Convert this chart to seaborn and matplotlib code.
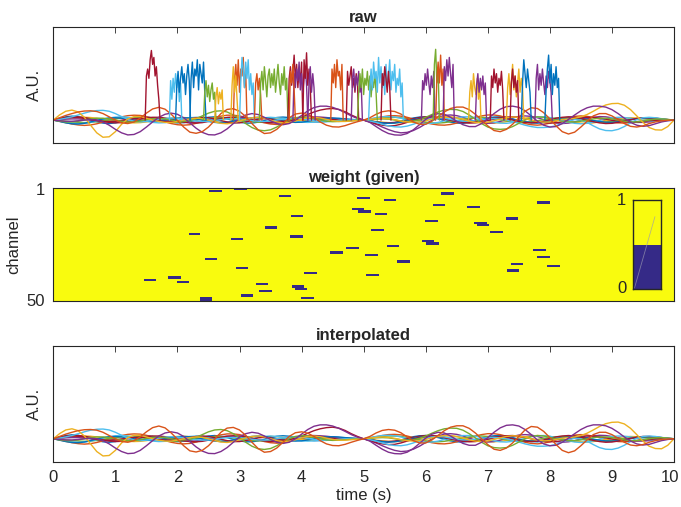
import numpy as np
import pandas as pd
import seaborn as sns
import matplotlib
matplotlib.use("Agg")
import matplotlib.pyplot as plt
import matplotlib.transforms as mtransforms
from matplotlib.colors import ListedColormap

# matlab default colour order
colors = ["#0072BD", "#D95319", "#EDB120", "#7E2F8E", "#77AC30", "#4DBEEE", "#A2142F"]

# smooth channel traces, in 0.01 A.U., one value every 0.1 s from 0 to 10 s
trace_step = 0.1
traces = [
    # small ones first
    [0, 8, 14, 17, 15, 9, 1, -7, -13, -15, -12, -6, 1, 8, 12, 13, 10, 4, -3, -9,
     -12, -11, -7, 0, 7, 12, 14, 11, 5, -2, -9, -13, -13, -9, -2, 5, 11, 13, 11, 6,
     0, -5, -8, -8, -6, -3, 0, 2, 2, 1, 0,
     -4, -9, -13, -14, -11, -5, 2, 9, 13, 14, 11, 5, -2, -9, -13, -14, -10, -4, 3, 9,
     13, 14, 11, 5, -2, -8, -12, -13, -10, -4, 3, 9, 12, 12, 9, 3, -3, -8, -11, -11,
     -8, -3, 2, 6, 8, 8, 6, 3, 1, 0],
    [0, -5, -11, -17, -21, -23, -21, -16, -9, -1, 7, 14, 19, 21, 20, 15, 8, 0, -8, -15,
     -20, -22, -20, -14, -6, 3, 11, 17, 21, 21, 18, 11, 3, -5, -12, -17, -19, -17, -12, -6,
     0, 5, 8, 9, 8, 6, 4, 2, 1, 0, 0,
     4, 9, 14, 18, 19, 17, 12, 5, -3, -11, -17, -21, -22, -19, -13, -5, 4, 12, 18, 22,
     22, 18, 11, 2, -7, -15, -20, -22, -19, -13, -5, 4, 11, 16, 18, 16, 11, 5, -2, -8,
     -12, -13, -11, -7, -3, 0, 2, 2, 1, 0],
    [0, 3, 6, 9, 11, 12, 11, 8, 4, 0, -4, -8, -11, -12, -11, -8, -4, 0, 4, 8,
     10, 11, 9, 6, 2, -2, -6, -9, -10, -9, -6, -2, 2, 6, 9, 10, 9, 6, 3, 0,
     -3, -5, -6, -6, -5, -4, -3, -2, -1, 0, 0,
     -3, -6, -9, -11, -12, -11, -8, -4, 0, 5, 9, 12, 13, 12, 9, 5, 0, -5, -9, -12,
     -13, -11, -7, -2, 3, 8, 12, 14, 13, 10, 5, 0, -5, -10, -13, -14, -12, -8, -3, 2,
     6, 9, 10, 9, 7, 4, 2, 1, 0, 0],
    [0, 2, 4, 5, 5, 3, 0, -3, -5, -6, -5, -2, 2, 6, 9, 10, 9, 6, 2, -3,
     -7, -10, -11, -9, -5, 0, 5, 9, 11, 11, 8, 4, -1, -6, -9, -10, -8, -4, 1, 6,
     10, 13, 14, 13, 11, 8, 5, 3, 1, 0, 0,
     -8, -18, -30, -41, -50, -55, -53, -45, -32, -16, -1, 12, 20, 22, 19, 12, 3, -6, -12, -14,
     -12, -6, 2, 10, 16, 18, 16, 10, 2, -6, -12, -15, -13, -8, -1, 6, 12, 15, 14, 10,
     4, -2, -7, -10, -10, -8, -5, -2, -1, 0],
    [0, -2, -5, -8, -10, -11, -10, -7, -3, 1, 5, 8, 10, 10, 8, 4, 0, -4, -8, -10,
     -10, -8, -4, 0, 4, 7, 9, 9, 7, 4, 0, -4, -7, -9, -9, -7, -3, 1, 5, 8,
     9, 8, 6, 3, 0, -2, -3, -3, -2, -1, 0,
     3, 7, 10, 12, 12, 10, 6, 1, -4, -9, -12, -13, -11, -7, -2, 3, 8, 11, 12, 10,
     6, 1, -4, -8, -10, -10, -7, -3, 2, 6, 9, 10, 8, 5, 0, -5, -8, -10, -9, -6,
     -2, 2, 5, 6, 6, 4, 2, 1, 0, 0],
    [0, -4, -9, -13, -15, -14, -10, -4, 3, 9, 13, 14, 12, 7, 1, -5, -10, -12, -11, -7,
     -1, 5, 10, 12, 11, 7, 1, -5, -10, -12, -10, -6, 0, 6, 10, 12, 10, 6, 0, -5,
     -9, -10, -9, -6, -3, 0, 2, 2, 1, 0, 0,
     5, 10, 14, 15, 13, 8, 1, -6, -12, -15, -14, -10, -3, 4, 10, 14, 14, 11, 5, -2,
     -9, -13, -14, -11, -5, 2, 9, 13, 14, 11, 5, -2, -9, -14, -16, -14, -9, -2, 5, 10,
     12, 11, 8, 3, -1, -4, -5, -4, -2, 0],
    [0, 6, 11, 14, 14, 11, 6, 0, -6, -10, -12, -11, -7, -2, 4, 9, 12, 12, 9, 4,
     -2, -8, -12, -13, -11, -6, 0, 6, 11, 13, 12, 8, 2, -4, -9, -12, -12, -9, -4, 2,
     7, 10, 11, 9, 6, 3, 0, -2, -2, -1, 0,
     -4, -8, -11, -12, -10, -6, 0, 6, 11, 14, 14, 11, 6, 0, -6, -11, -13, -12, -8, -2,
     4, 10, 13, 14, 11, 6, 0, -6, -11, -13, -12, -8, -2, 4, 9, 12, 12, 9, 4, -1,
     -5, -8, -9, -8, -6, -3, -1, 0, 0, 0],
    # larger excursions on top
    [0, -6, -12, -16, -17, -14, -8, -1, 5, 9, 10, 8, 4, 0, -3, -5, -5, -3, 0, 4,
     8, 10, 9, 5, 0, -6, -10, -12, -10, -5, 1, 6, 10, 12, 10, 6, 1, -4, -8, -10,
     -9, -5, 0, 5, 8, 9, 8, 5, 3, 1, 0, -3, -8, -12, -14, -13, -9, -4, 2, 7,
     10, 10, 8, 4, 0, -4, -6, -6, -3, 1, 5, 8, 9, 7, 3, -2, -7, -10, -11, -9,
     -5, 0, 5, 8, 9, 7, 3, -2, -6, -9, -10, -8, -4, 1, 5, 8, 9, 8, 5, 2, 0],
    [0, 5, 10, 12, 11, 7, 2, -3, -6, -7, -5, -1, 3, 6, 7, 5, 1, -3, -6, -6,
     -4, 0, 5, 10, 12, 10, 5, -2, -8, -12, -12, -8, -2, 4, 6, 4, -2, -6, -5, 2,
     12, 24, 35, 43, 48, 50, 46, 36, 22, 10, 0, -8, -16, -22, -25, -24, -18, -10, -2, 5,
     10, 12, 10, 5, -1, -6, -9, -9, -6, -1, 4, 8, 9, 6, 0, -6, -10, -12, -10, -5,
     2, 8, 12, 14, 12, 7, 0, -7, -12, -15, -14, -10, -4, 2, 7, 10, 10, 8, 5, 2, 0],
    [0, 3, 8, 14, 22, 30, 37, 41, 42, 38, 28, 15, 3, -5, -8, -6, -2, 3, 7, 9,
     8, 4, 0, -4, -6, -5, -2, 2, 5, 6, 5, 2, -2, -5, -6, -4, 0, 4, 7, 8,
     6, 2, -3, -6, -7, -5, -2, 0, 1, 1, 0, -4, -10, -18, -25, -29, -30, -26, -18, -8,
     2, 8, 10, 8, 3, -2, -5, -5, -2, 2, 5, 6, 4, 0, -6, -14, -22, -28, -32, -32,
     -30, -24, -14, -4, 2, 0, -10, -25, -38, -45, -46, -40, -28, -12, 2, 10, 12, 10, 6, 2, 0],
    [0, -5, -8, -8, -5, 0, 5, 8, 8, 5, 0, -5, -8, -8, -4, 2, 6, 7, 5, 0,
     -4, -5, -2, 6, 18, 30, 38, 40, 35, 22, 5, -15, -32, -43, -46, -42, -30, -14, 0, 10,
     14, 12, 6, 0, -5, -7, -6, -4, -2, -1, 0, 2, 4, 5, 4, 0, -4, -6, -4, 2,
     12, 24, 35, 43, 46, 45, 37, 22, 4, -15, -30, -38, -40, -38, -28, -14, 0, 10, 14, 12,
     6, 0, -5, -8, -8, -5, 0, 5, 8, 8, 5, 0, -5, -8, -8, -5, 0, 4, 5, 3, 0],
    [0, 22, 38, 43, 35, 12, -22, -55, -74, -72, -50, -18, 5, 15, 15, 8, 0, -6, -10, -10,
     -6, 0, 5, 8, 6, 0, -8, -14, -16, -12, -4, 4, 10, 12, 8, 0, -8, -12, -10, -4,
     4, 10, 12, 9, 3, -3, -6, -6, -4, -2, 0, 3, 6, 8, 6, 2, -4, -8, -10, -8,
     -3, 4, 10, 14, 14, 10, 3, -5, -10, -12, -9, -3, 4, 10, 13, 12, 7, 0, -6, -9,
     -8, -3, 3, 5, 8, 14, 24, 38, 53, 65, 71, 72, 64, 45, 18, -10, -32, -42, -43, -28, 0],
    [0, -3, -5, -5, -3, 0, 2, 0, -8, -22, -40, -55, -64, -62, -50, -30, -8, 12, 25, 30,
     25, 10, -12, -35, -53, -63, -64, -55, -38, -15, 8, 22, 28, 24, 12, -3, -15, -20, -15, 0,
     20, 40, 54, 60, 60, 55, 45, 32, 18, 7, 0, -10, -28, -45, -58, -64, -65, -58, -42, -20,
     3, 20, 28, 25, 12, -5, -20, -28, -28, -15, 5, 28, 47, 58, 60, 55, 40, 18, -5, -22,
     -30, -28, -15, 3, 22, 40, 53, 60, 60, 56, 45, 28, 8, -10, -22, -27, -24, -16, -8, -3, 0],
    [0, 10, 20, 28, 35, 39, 40, 37, 28, 14, 0, -12, -15, -8, 8, 30, 48, 55, 47, 25,
     -2, -30, -52, -57, -50, -30, -2, 28, 46, 49, 38, 15, -15, -42, -58, -55, -40, -15, 10, 26,
     30, 24, 10, -8, -22, -29, -30, -24, -15, -7, 0, 10, 25, 36, 40, 37, 26, 8, -8, -18,
     -18, -5, 15, 35, 50, 56, 56, 45, 25, 0, -25, -45, -50, -40, -18, 10, 38, 53, 50, 32,
     5, -25, -50, -60, -52, -30, -5, 18, 28, 28, 18, 2, -15, -27, -30, -25, -15, -8, -3, -1, 0],
]
trace_color = [0, 1, 2, 3, 4, 5, 6, 0, 6, 5, 4, 2, 3, 1]

# artifact bursts in the raw recording: colour, start time (s), values (A.U.) every 0.02 s
burst_step = 0.02
burst_color = [6, 5, 0, 0, 4, 2, 1, 2, 5, 1, 4, 6, 3, 1, 6, 3, 1, 6, 3, 4,
               5, 6, 3, 4, 1, 3, 2, 3, 6, 2, 6, 0, 3, 0]
burst_start = [1.48, 1.87, 1.97, 2.20, 2.42, 2.60, 2.90, 2.86, 3.00, 3.24,
               3.32, 3.78, 3.86, 3.80, 4.02, 4.10, 4.47, 4.72, 4.80, 4.90,
               5.08, 5.28, 5.93, 6.12, 6.16, 6.28, 6.69, 6.80, 7.04, 7.30,
               7.36, 7.54, 7.76, 7.92]
burst_values = [
    [0, 1.9, 2.2, 1.8, 2.6, 3.0, 2.4, 2.7, 1.9, 2.3, 1.5, 0.9, 0],
    [0, 1.7, 0.9, 1.8, 1.2, 2.0, 1.4, 1.9, 0.8, 1.6, 0],
    [0, 1.5, 2.1, 1.2, 1.8, 2.3, 1.6, 2.0, 1.1, 1.9, 2.4, 1.7, 0],
    [0, 1.8, 2.5, 1.4, 2.2, 1.9, 2.6, 1.3, 2.4, 2.0, 1.6, 2.5, 1.2, 0],
    [0, 1.2, 1.7, 1.0, 1.5, 0.8, 1.3, 1.6, 0.9, 1.2, 0],
    [0, 1.0, 1.4, 0.7, 1.2, 0.9, 1.3, 0],
    [0, 1.8, 2.4, 1.5, 2.6, 1.2, 2.2, 1.9, 2.7, 1.4, 2.1, 0],
    [0, 1.5, 2.3, 1.2, 1.9, 0.9, 0],
    [0, 1.6, 2.7, 2.2, 1.4, 2.5, 1.8, 2.6, 1.3, 2.0, 1.1, 1.6, 0],
    [0, 1.6, 2.0, 1.3, 1.8, 1.1, 0],
    [0, 1.6, 2.1, 1.3, 2.3, 1.7, 1.0, 1.9, 2.2, 1.4, 2.0, 1.5, 2.2, 1.2, 1.8, 2.4,
     1.6, 1.1, 2.0, 1.5, 2.3, 1.3, 1.8, 0],
    [0, 1.8, 2.3, 1.5, 2.1, 2.8, 1.7, 2.4, 1.4, 2.2, 1.6, 2.5, 0],
    [0, 2.0, 1.4, 2.2, 1.7, 2.5, 1.3, 2.0, 1.2, 1.8, 2.3, 1.5, 0],
    [0, 2.1, 1.6, 2.4, 1.3, 0],
    [0, 2.6, 1.8, 2.9, 1.5, 2.2, 1.4, 0],
    [0, 1.6, 2.3, 1.2, 2.0, 1.4, 0],
    [0, 2.2, 1.6, 2.4, 1.4, 2.6, 1.9, 2.1, 1.3, 2.4, 0],
    [0, 2.1, 1.5, 1.9, 2.3, 1.4, 1.8, 1.2, 2.0, 1.6, 0],
    [0, 1.8, 2.2, 1.3, 1.9, 1.5, 2.1, 1.2, 1.6, 0],
    [0, 1.2, 2.0, 1.4, 2.2, 1.1, 1.8, 1.5, 2.1, 1.3, 1.9, 1.0, 1.7, 1.4, 2.0, 1.2, 0],
    [0, 1.4, 2.2, 1.3, 2.5, 1.8, 2.1, 1.2, 2.7, 1.6, 2.3, 1.4, 2.0, 1.1, 2.4, 1.5,
     1.9, 2.6, 1.3, 2.1, 1.7, 2.4, 1.2, 1.8, 1.5, 2.2, 1.0, 1.6, 0],
    [0, 2.0, 1.5, 2.3, 1.8, 1.2, 2.1, 1.4, 0],
    [0, 1.7, 1.3, 2.0, 1.5, 2.2, 1.6, 1.1, 1.9, 1.4, 2.1, 0],
    [0, 2.4, 3.05, 1.6, 2.2, 0],
    [0, 1.8, 2.5, 1.6, 2.8, 1.5, 2.2, 0],
    [0, 2.3, 1.7, 2.6, 1.9, 2.7, 2.0, 1.4, 2.4, 0],
    [0, 1.2, 1.7, 1.0, 2.0, 1.4, 1.1, 1.8, 0.9, 1.5, 0],
    [0, 1.5, 2.0, 1.2, 1.8, 1.3, 1.9, 1.1, 1.6, 0],
    [0, 1.9, 1.4, 2.2, 1.6, 2.0, 1.2, 1.8, 1.5, 2.1, 1.3, 0],
    [0, 1.4, 2.0, 1.1, 1.7, 2.4, 1.3, 1.9, 1.0, 1.6, 2.2, 1.2, 1.8, 1.4, 0],
    [0, 1.6, 2.2, 1.4, 1.9, 1.2, 1.7, 0],
    [0, 1.6, 2.6, 2.0, 1.4, 2.2, 1.7, 1.2, 0],
    [0, 1.8, 2.4, 1.3, 2.0, 1.5, 2.2, 1.6, 1.1, 1.9, 1.4, 2.1, 1.7, 1.2, 0],
    [0, 1.3, 2.2, 2.8, 1.6, 2.4, 1.1, 2.0, 1.5, 2.3, 1.4, 1.8, 0],
]

# zero-weight stretches in the given weight map: channel, start (s), end (s)
bar_channel = [2, 1, 21, 23, 32, 36, 41, 40, 42, 49, 50, 48, 43, 46,
               4, 5, 6, 3, 8, 10, 11, 12, 13, 15, 18, 19, 22, 24, 25, 26,
               27, 29, 30, 33, 38, 39, 44, 45, 49,
               9, 7, 16, 17, 14, 20, 28, 31, 34, 37, 35]
bar_start = [2.51, 2.91, 2.18, 2.86, 2.44, 2.94, 1.46, 1.85, 1.99, 2.36, 2.36, 3.02, 3.27, 3.32,
             3.64, 4.89, 5.32, 6.25, 6.11, 4.81, 4.91, 5.18, 3.83, 5.99, 3.41, 5.12, 3.81, 5.94,
             6.00, 5.37, 4.72, 4.46, 5.02, 5.54, 4.04, 5.04, 3.85, 3.89, 3.99,
             6.67, 7.80, 6.78, 6.82, 7.29, 7.04, 7.73, 7.80, 7.37, 7.31, 7.96]
bar_end = [2.71, 3.12, 2.37, 3.06, 2.64, 3.14, 1.65, 2.05, 2.19, 2.56, 2.56, 3.21, 3.46, 3.52,
           3.83, 5.10, 5.52, 6.45, 6.31, 5.00, 5.12, 5.38, 4.03, 6.19, 3.61, 5.33, 4.02, 6.13,
           6.21, 5.57, 4.92, 4.67, 5.23, 5.75, 4.25, 5.24, 4.04, 4.09, 4.20,
           6.87, 8.00, 6.98, 7.02, 7.49, 7.24, 7.93, 8.00, 7.57, 7.51, 8.16]

n_channels = 50
x_ticks = list(range(0, 11))

for tr in traces:
    assert len(tr) == 101, len(tr)
assert len(burst_color) == len(burst_start) == len(burst_values)
assert len(bar_channel) == len(bar_start) == len(bar_end)

# long-form tables
rows = []
for k, tr in enumerate(traces):
    for i, v in enumerate(tr):
        rows.append({"t": i * trace_step, "v": v / 100.0, "trace": f"c{k}"})
df_tr = pd.DataFrame(rows)
trace_pal = {f"c{k}": colors[c] for k, c in enumerate(trace_color)}

rows = []
for k, (c, t0, vals) in enumerate(zip(burst_color, burst_start, burst_values)):
    for i, v in enumerate(vals):
        rows.append({"t": t0 + i * burst_step, "v": v, "burst": f"b{k}"})
df_b = pd.DataFrame(rows)
burst_pal = {f"b{k}": colors[c] for k, c in enumerate(burst_color)}

dt_w = 0.01
weight = np.ones((n_channels, int(round(10 / dt_w))))
for ch, t0, t1 in zip(bar_channel, bar_start, bar_end):
    weight[ch - 1, int(round(t0 / dt_w)):int(round(t1 / dt_w))] = 0

sns.set_style("white")
plt.rcParams["font.family"] = ["Liberation Sans", "DejaVu Sans"]
plt.rcParams["font.size"] = 12

fig = plt.figure(figsize=(6.81, 5.07), dpi=100)
ax_raw = fig.add_axes([0.0783, 0.7174, 0.9114, 0.2288])
ax_w = fig.add_axes([0.0783, 0.4057, 0.9114, 0.2241])
ax_int = fig.add_axes([0.0783, 0.0888, 0.9114, 0.2288])

dark = "#352A87"
yellow = "#F9FB0E"
edge = "#262626"


def style_axes(ax):
    for s in ax.spines.values():
        s.set_visible(True)
        s.set_color(edge)
        s.set_linewidth(0.8)
    ax.tick_params(direction="in", length=4.5, width=0.6, color=edge,
                   top=True, right=True, labelsize=12, pad=6, labelcolor="#262626")


for ax in (ax_raw, ax_int):
    sns.lineplot(data=df_tr, x="t", y="v", hue="trace", palette=trace_pal,
                 estimator=None, legend=False, linewidth=1.0, ax=ax)
sns.lineplot(data=df_b, x="t", y="v", hue="burst", palette=burst_pal,
             estimator=None, legend=False, linewidth=1.0, sort=False, ax=ax_raw)

for ax, title in ((ax_raw, "raw"), (ax_int, "interpolated")):
    ax.set_xlim(0, 10)
    ax.set_ylim(-1, 4)
    ax.set_yticks([])
    ax.set_xticks(x_ticks)
    ax.set_ylabel("A.U.", labelpad=8)
    ax.set_title(title, fontweight="bold", fontsize=12, pad=4)
    style_axes(ax)
ax_raw.set_xticklabels([])
ax_raw.set_xlabel("")
ax_int.set_xlabel("time (s)", labelpad=2)

# keep the last tick label inside the canvas
last = ax_int.get_xticklabels()[-1]
last.set_transform(last.get_transform() +
                   mtransforms.ScaledTranslation(-4 / 100, 0, fig.dpi_scale_trans))

sns.heatmap(weight, ax=ax_w, cmap=ListedColormap([dark, yellow]), vmin=0, vmax=1,
            cbar=False, xticklabels=False, yticklabels=False, rasterized=True)
ax_w.set_xticks([])
ax_w.set_yticks([0.5, n_channels - 0.5])
ax_w.set_yticklabels(["1", str(n_channels)], rotation=0)
ax_w.set_ylabel("channel", labelpad=4)
ax_w.set_title("weight (given)", fontweight="bold", fontsize=12, pad=4)
style_axes(ax_w)

# small colour key inside the weight panel
cax = fig.add_axes([0.930, 0.430, 0.0407, 0.175])
cax.axhspan(0, 0.5, color=dark, lw=0)
cax.axhspan(0.5, 1, color=yellow, lw=0)
cax.plot([0.04, 0.78], [0.01, 0.815], color="#9a9ab0", lw=0.6, alpha=0.7)
cax.set_xlim(0, 1)
cax.set_ylim(0, 1)
cax.set_xticks([])
cax.set_yticks([])
for s in cax.spines.values():
    s.set_visible(True)
    s.set_color(edge)
    s.set_linewidth(1.0)
cax.text(-0.25, 1.0, "1", ha="right", va="center", fontsize=12,
         color="#262626", transform=cax.transAxes)
cax.text(-0.25, 0.0, "0", ha="right", va="center", fontsize=12,
         color="#262626", transform=cax.transAxes)

fig.savefig("out.png", dpi=100)
